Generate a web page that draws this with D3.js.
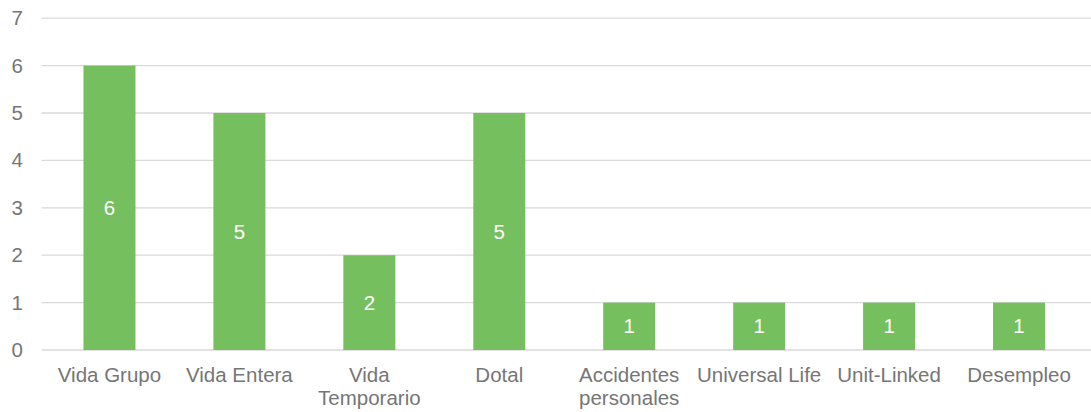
<!DOCTYPE html>
<html><head><meta charset="utf-8">
<script src="https://cdn.jsdelivr.net/npm/d3@7"></script>
<style>body{margin:0;background:#fff}svg{display:block;font-family:"Liberation Sans",Arial,sans-serif}</style>
</head><body>
<svg id="c" width="1091" height="412"></svg>
<script>
const categories = [["Vida Grupo"],["Vida Entera"],["Vida","Temporario"],["Dotal"],["Accidentes","personales"],["Universal Life"],["Unit-Linked"],["Desempleo"]];
const values = [6,5,2,5,1,1,1,1];
const yTicks = [0,1,2,3,4,5,6,7];

const svg = d3.select("#c");
const left = 44.5, right = 1084, gridLeft = 41.5, gridRight = 1091;
const x = d3.scaleBand().domain(d3.range(categories.length)).range([left, right]);
const y = d3.scaleLinear().domain([0,7]).range([350, 18.2]);
const barW = 52;
const textCol = "#767676";
const fs = 20.5;

// gridlines
svg.append("g").selectAll("line").data(yTicks).join("line")
  .attr("x1", gridLeft).attr("x2", gridRight)
  .attr("y1", d=>y(d)).attr("y2", d=>y(d))
  .attr("stroke", "#d9d9d9").attr("stroke-width", 1.3);

// y labels
const yAxis = d3.axisLeft(y).tickValues(yTicks).tickSize(0).tickPadding(0).tickFormat(d3.format("d"));
const ya = svg.append("g").attr("transform", "translate(23,0)").call(yAxis);
ya.select(".domain").remove();
ya.selectAll("text").attr("fill", textCol).attr("font-size", fs).attr("font-family", '"Liberation Sans",Arial,sans-serif');

// bars
svg.append("g").selectAll("rect").data(values).join("rect")
  .attr("x", (d,i)=>x(i)+x.bandwidth()/2-barW/2)
  .attr("width", barW)
  .attr("y", d=>y(d)).attr("height", d=>y(0)-y(d))
  .attr("fill", "#75bf5e");

// data labels
svg.append("g").selectAll("text").data(values).join("text")
  .attr("x", (d,i)=>x(i)+x.bandwidth()/2)
  .attr("y", d=>(y(d)+y(0))/2)
  .attr("dy", "0.35em")
  .attr("text-anchor", "middle")
  .attr("fill", "#ffffff").attr("font-size", fs)
  .text(d=>d);

// category labels
const cl = svg.append("g").selectAll("text").data(categories).join("text")
  .attr("x", (d,i)=>x(i)+x.bandwidth()/2)
  .attr("y", 382)
  .attr("text-anchor", "middle")
  .attr("fill", textCol).attr("font-size", fs);
cl.selectAll("tspan").data(d=>d).join("tspan")
  .attr("x", function(){return d3.select(this.parentNode).attr("x");})
  .attr("dy", (d,i)=>i===0?0:23)
  .text(d=>d);
</script>
</body></html>
